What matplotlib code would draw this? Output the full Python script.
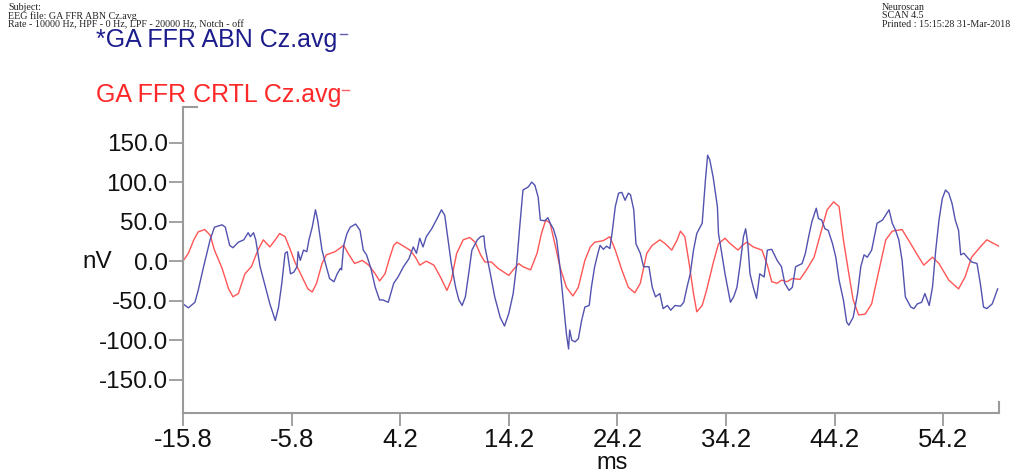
import matplotlib
matplotlib.use("Agg")
import matplotlib.pyplot as plt
import numpy as np
from matplotlib.lines import Line2D

plt.rcParams['font.family'] = ['Liberation Sans', 'DejaVu Sans']

# time axis (ms) and amplitudes (nV)
abn_t = [-15.8, -15.3, -14.7, -14.4, -13.9, -13.3, -12.9, -12.2, -11.9, -11.5, -11.2, -10.7, -10.2, -9.8, -9.6,
         -9.3, -9.1, -8.7, -8.2, -7.8, -7.3, -7.0, -6.7, -6.4, -6.2, -5.9, -5.6, -5.3, -5.2, -5.0, -4.7, -4.4,
         -4.2, -3.9, -3.6, -3.4, -3.0, -2.6, -2.3, -1.9, -1.6, -1.3, -1.2, -1.0, -0.7, -0.4, 0.1, 0.5, 0.8,
         1.1, 1.5, 1.9, 2.3, 2.6, 3.1, 3.6, 4.0, 4.5, 5.0, 5.4, 5.7, 6.0, 6.3, 6.6, 7.1, 7.6, 8.0, 8.3, 8.6,
         8.9, 9.3, 9.6, 9.9, 10.2, 10.5, 10.8, 11.3, 11.6, 11.9, 12.0, 12.5, 12.9, 13.4, 13.8, 14.2, 14.6,
         14.9, 15.2, 15.5, 16.0, 16.3, 16.6, 16.9, 17.1, 17.5, 17.8, 18.0, 18.3, 18.6, 18.9, 19.2, 19.5,
         19.7, 19.8, 20.0, 20.3, 20.6, 20.9, 21.2, 21.6, 21.8, 22.1, 22.4, 22.6, 22.9, 23.2, 23.5, 23.7,
         24.0, 24.3, 24.6, 24.9, 25.2, 25.4, 25.7, 25.9, 26.3, 26.6, 27.1, 27.4, 27.7, 28.1, 28.4, 28.8,
         29.1, 29.5, 30.0, 30.3, 30.6, 30.9, 31.2, 31.5, 32.0, 32.3, 32.5, 32.7, 33.0, 33.4, 33.5, 33.8,
         34.1, 34.6, 34.9, 35.2, 35.5, 35.8, 36.0, 36.2, 36.4, 36.7, 37.0, 37.3, 37.7, 38.0, 38.4, 38.9,
         39.3, 39.6, 40.0, 40.3, 40.6, 40.9, 41.2, 41.5, 41.8, 42.1, 42.5, 42.7, 43.0, 43.3, 43.6, 44.0,
         44.3, 44.6, 45.0, 45.3, 45.5, 45.9, 46.3, 46.6, 46.9, 47.2, 47.6, 48.1, 48.6, 49.2, 49.5, 49.8,
         50.1, 50.4, 50.7, 51.2, 51.5, 51.8, 52.2, 52.5, 52.9, 53.2, 53.5, 53.8, 54.1, 54.4, 54.7, 55.0,
         55.3, 55.6, 55.8, 56.1, 56.4, 56.8, 57.3, 57.6, 57.9, 58.2, 58.7, 59.2]
abn_v = [-54, -59, -52, -37, -7, 27, 43, 46, 43, 20, 17, 24, 27, 36, 31,
         36, 27, -7, -33, -54, -75, -58, -28, 10, 12, -16, -14, -7, 12, 1, 14, 12,
         27, 43, 65, 52, 14, -7, -22, -26, -16, -9, -11, 20, 35, 43, 47, 39, 14,
         8, -9, -33, -49, -49, -52, -28, -20, -7, 3, 18, 10, 29, 18, 31, 41, 54, 65, 58, 27,
         -3, -33, -49, -56, -45, -16, 14, 27, 31, 32, 18, -16, -45, -71, -82, -66, -41,
         -7, 43, 90, 94, 100, 96, 81, 52, 51, 55, 48, 41, 27, -7, -49, -92,
         -111, -87, -100, -102, -98, -75, -58, -56, -33, -7, 10, 20, 15, 19, 16, 35,
         69, 86, 87, 77, 86, 84, 65, 22, 10, -7, -7, -33, -45, -41, -60, -56,
         -62, -56, -57, -52, -33, -16, 14, 35, 48, 103, 134, 128, 107, 69, 35, 10,
         -16, -52, -45, -33, -3, 31, 41, 22, -16, -33, -47, -16, -20, 14, 15, 1,
         -7, -28, -37, -33, -7, -5, -3, 10, 31, 50, 67, 54, 52, 41, 39, 22,
         5, -24, -49, -77, -81, -71, -41, -7, 8, 5, 14, 48, 52, 65, 48, 39,
         27, 1, -45, -58, -60, -54, -52, -41, -56, -33, 14, 52, 79, 90, 86, 73,
         52, 39, 8, 10, 5, -1, -3, -28, -58, -60, -54, -35]

crtl_t = [-15.8, -15.3, -14.8, -14.4, -13.8, -13.3, -12.9, -12.2, -11.6, -11.2, -10.7, -10.1, -9.5, -8.9,
          -8.4, -7.8, -7.3, -6.9, -6.4, -5.9, -5.5, -4.9, -4.3, -3.9, -3.5, -3.0, -2.6, -1.8, -1.0, -0.6,
          0.0, 0.7, 1.3, 1.9, 2.3, 2.8, 3.2, 3.6, 3.9, 4.5, 5.1, 5.6, 6.0, 6.6, 7.3, 7.9, 8.5, 8.9, 9.4,
          10.0, 10.6, 11.1, 11.6, 12.0, 12.6, 13.2, 14.2, 14.6, 15.1, 15.5, 16.2, 16.8, 17.2, 17.6, 18.0,
          18.5, 18.9, 19.5, 20.1, 20.6, 21.2, 21.7, 22.1, 22.9, 23.5, 24.0, 24.6, 25.2, 25.8, 26.3, 26.9,
          27.4, 28.1, 28.6, 29.2, 29.7, 30.0, 30.4, 30.8, 31.2, 31.5, 32.0, 32.4, 33.0, 33.5, 34.1, 34.6,
          35.3, 35.7, 36.1, 36.7, 37.5, 38.0, 38.4, 38.9, 39.3, 39.8, 40.3, 41.0, 41.6, 42.3, 42.9, 43.5,
          44.1, 44.6, 45.0, 45.5, 45.9, 46.4, 47.0, 47.6, 48.2, 48.9, 49.5, 50.4, 51.2, 51.8, 52.4, 53.2,
          53.8, 54.7, 55.6, 56.2, 56.8, 57.6, 58.2, 59.3]
crtl_v = [0, 10, 27, 37, 40, 33, 14, -9, -35, -45, -41, -16, -7, 14,
          27, 18, 27, 35, 31, 14, -1, -18, -35, -39, -28, -3, 8, 12, 20, 10,
          -3, 1, -5, -16, -25, -16, 3, 20, 24, 19, 14, 5, -5, 0, -5, -20, -37, -24, 10,
          27, 30, 24, 8, -1, -1, -9, -18, -11, -3, -7, -11, 10, 35, 52, 48,
          18, -7, -33, -44, -33, 1, 18, 24, 26, 31, 14, -11, -33, -40, -28, 10,
          20, 27, 22, 14, 27, 38, 31, -3, -41, -64, -56, -37, -3, 22, 29, 22,
          14, 20, 24, 18, 14, -5, -26, -28, -24, -26, -22, -23, -11, 5, 35, 65,
          75, 69, 27, -16, -49, -68, -67, -54, -16, 27, 38, 40, 22, 8, -5, 5,
          -3, -24, -35, -20, 5, 18, 27, 19]

yticks = [-150, -100, -50, 0, 50, 100, 150]
xticks = [-15.8, -5.8, 4.2, 14.2, 24.2, 34.2, 44.2, 54.2]

fig = plt.figure(figsize=(10.29, 4.74), dpi=100)
ax = fig.add_axes([0.1778, 0.1287, 0.9706 - 0.1778, 0.7743 - 0.1287])

ax.plot(crtl_t, crtl_v, color='#ff5555', lw=1.0)
ax.plot(abn_t, abn_v, color='#5252b0', lw=1.0)

ax.set_xlim(-15.8, 59.3)
ax.set_ylim(-192, 195)

grey = '#9a9a9a'
for s in ['top', 'right']:
    ax.spines[s].set_visible(False)
for s in ['left', 'bottom']:
    ax.spines[s].set_color(grey)
    ax.spines[s].set_linewidth(1.5)

ax.set_yticks(yticks)
ax.set_yticklabels(['%.1f' % v for v in yticks], fontsize=17.5)
ax.set_xticks(xticks)
ax.set_xticklabels(['%.1f' % v for v in xticks], fontsize=18.5)
ax.tick_params(axis='y', length=10, width=1.3, color=grey, pad=1, labelcolor='#111111')
ax.tick_params(axis='x', length=9, width=1.3, color=grey, pad=2, labelcolor='#111111')

# end marks on the axes
ax.plot([1, 1], [0, 0.035], transform=ax.transAxes, color=grey, lw=1.5, clip_on=False)
ax.plot([0, 0.017], [1, 1], transform=ax.transAxes, color=grey, lw=1.5, clip_on=False)

fig.text(97 / 1029, 1 - 262 / 474, 'nV', fontsize=17.5, ha='center', va='center', color='#111111')
fig.text(612 / 1029, 1 - 463 / 474, 'ms', fontsize=17, ha='center', va='center', color='#111111')

# legend entries
fig.text(96 / 1029, 1 - 40 / 474, '*GA FFR ABN Cz.avg', fontsize=18, color='#1c1c8c', va='center')
fig.text(96 / 1029, 1 - 95 / 474, 'GA FFR CRTL Cz.avg', fontsize=18, color='#ff2828', va='center')
fig.add_artist(Line2D([340 / 1029, 347 / 1029], [1 - 34 / 474, 1 - 34 / 474], color='#6060b0', lw=1))
fig.add_artist(Line2D([342 / 1029, 349 / 1029], [1 - 90 / 474, 1 - 90 / 474], color='#ff6060', lw=1))

# header
hdr = dict(fontsize=7.2, family='Liberation Serif', color='#222222', va='top')
fig.text(8 / 1029, 1 - 3 / 474, 'Subject:', **hdr)
fig.text(8 / 1029, 1 - 11.5 / 474, 'EEG file: GA FFR ABN Cz.avg', **hdr)
fig.text(8 / 1029, 1 - 20 / 474, 'Rate - 10000 Hz, HPF - 0 Hz, LPF - 20000 Hz, Notch - off', **hdr)
fig.text(882 / 1029, 1 - 3 / 474, 'Neuroscan', **hdr)
fig.text(882 / 1029, 1 - 11.5 / 474, 'SCAN 4.5', **hdr)
fig.text(882 / 1029, 1 - 20 / 474, 'Printed : 15:15:28 31-Mar-2018', **hdr)

fig.savefig('out.png', dpi=100)
